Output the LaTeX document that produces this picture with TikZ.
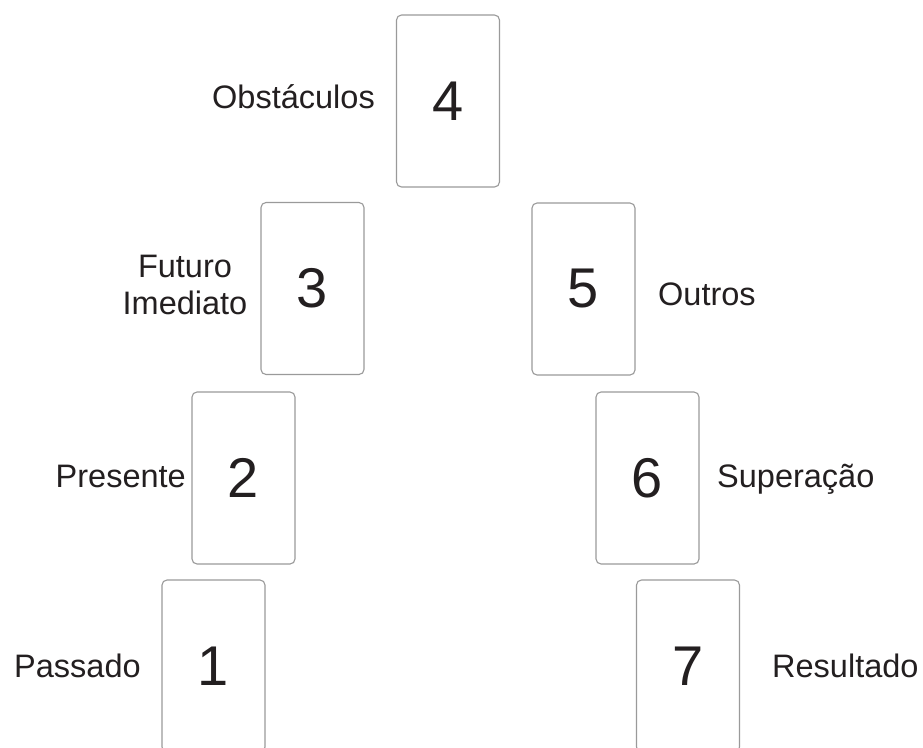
\documentclass[tikz,border=0pt]{standalone}
\usepackage{fontspec}
\setmainfont{Liberation Sans}
\definecolor{ink}{HTML}{231F20}
\definecolor{edge}{HTML}{9A9A9A}
\begin{document}
\begin{tikzpicture}[x=1pt,y=-1pt,
  card/.style={draw=edge, line width=1.1pt, rounded corners=5pt, fill=white,
    minimum width=103pt, minimum height=172pt, inner sep=0pt, outer sep=0pt,
    font=\fontsize{56}{60}\selectfont, text=ink},
  lbl/.style={inner sep=0pt, font=\fontsize{32.5}{37}\selectfont, text=ink}]
\useasboundingbox (0,0) rectangle (923,747);
\clip (0,0) rectangle (923,747);
\fill[white] (0,0) rectangle (923,747);
% cards
\node[card] (c4) at (448,101) {4};
\node[card] (c3) at (312.5,288.5) {3};
\node[card] (c5) at (583.5,289) {5};
\node[card] (c2) at (243.5,478) {2};
\node[card] (c6) at (647.5,478) {6};
\node[card] (c1) at (213.5,666) {1};
\node[card] (c7) at (688,666) {7};
% labels
\node[lbl, anchor=base west] (l4) at (212,108) {Obstáculos};
\node[lbl, anchor=base, align=center] (l3) at (185,314) {Futuro\\Imediato};
\node[lbl, anchor=base west] (l5) at (658,305) {Outros};
\node[lbl, anchor=base east] (l2) at (186,487) {Presente};
\node[lbl, anchor=base west] (l6) at (717,487) {Superação};
\node[lbl, anchor=base west] (l1) at (14,677) {Passado};
\node[lbl, anchor=base west] (l7) at (772,677) {Resultado};
\end{tikzpicture}
\end{document}
